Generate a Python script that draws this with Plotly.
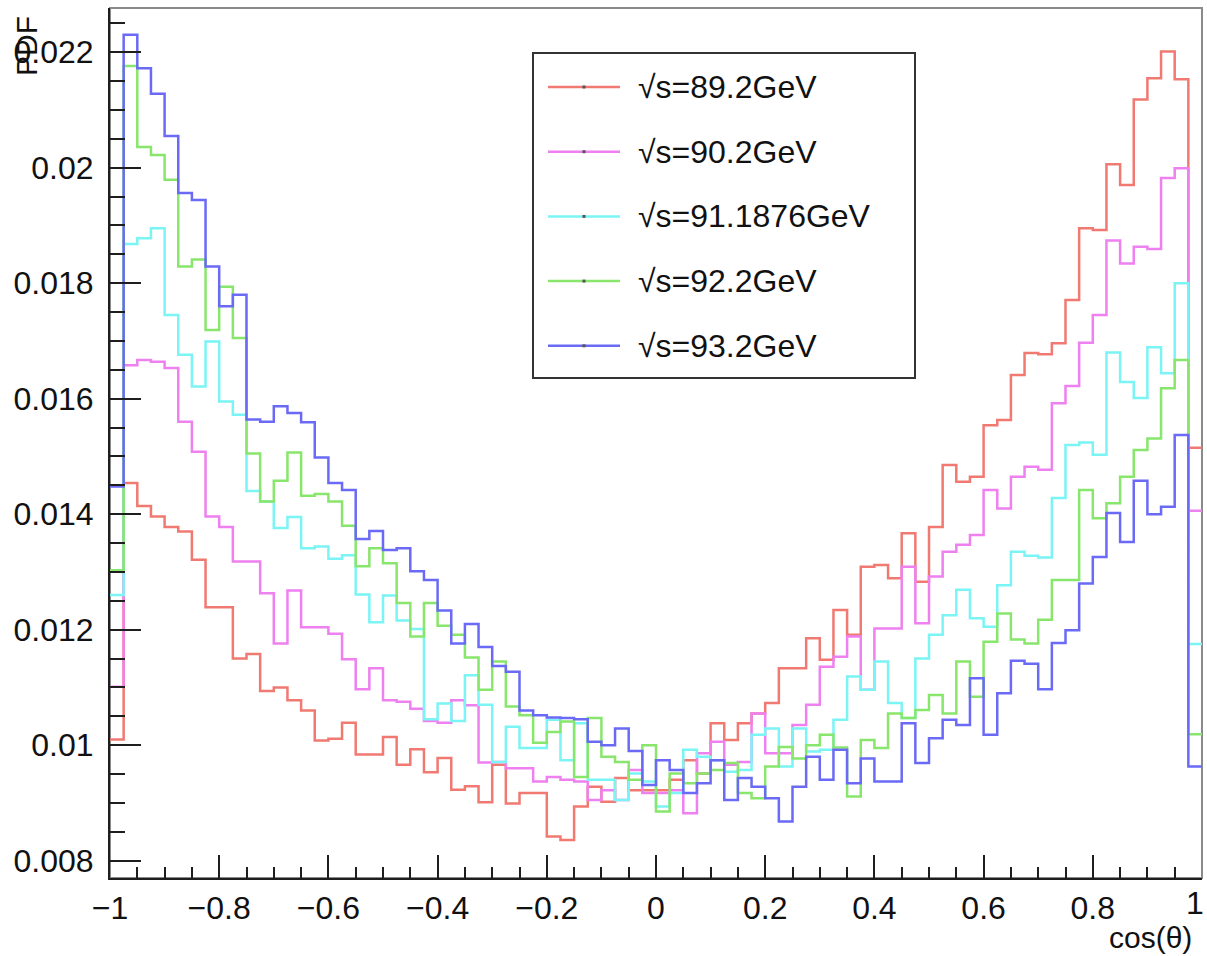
import plotly.graph_objects as go

# ---------------- data ----------------
x_min, x_max, n_bins = -1.0, 1.0, 80

series_names = ["√s=89.2GeV", "√s=90.2GeV", "√s=91.1876GeV", "√s=92.2GeV", "√s=93.2GeV"]
series_colors = ["#f07a72", "#ee80f0", "#7af4f4", "#88e66c", "#6a6af6"]

pdf_892 = [0.01010, 0.01454, 0.01414, 0.01396, 0.01378, 0.01370, 0.01321, 0.01239, 0.01239, 0.01150,
           0.01158, 0.01094, 0.01100, 0.01078, 0.01060, 0.01008, 0.01011, 0.01039, 0.00984, 0.00984,
           0.01014, 0.00966, 0.00993, 0.00953, 0.00978, 0.00923, 0.00929, 0.00901, 0.00966, 0.00899,
           0.00917, 0.00917, 0.00842, 0.00836, 0.00894, 0.00928, 0.00902, 0.00943, 0.00922, 0.00922,
           0.00922, 0.00940, 0.00974, 0.00951, 0.01038, 0.01009, 0.01038, 0.01055, 0.01073, 0.01133,
           0.01133, 0.01185, 0.01148, 0.01234, 0.01191, 0.01309, 0.01312, 0.01289, 0.01367, 0.01283,
           0.01378, 0.01485, 0.01456, 0.01465, 0.01554, 0.01563, 0.01641, 0.01679, 0.01677, 0.01696,
           0.01771, 0.01895, 0.01892, 0.02006, 0.01970, 0.02118, 0.02155, 0.02201, 0.02153, 0.01515]

pdf_902 = [0.01101, 0.01658, 0.01667, 0.01664, 0.01653, 0.01560, 0.01508, 0.01396, 0.01378, 0.01318,
           0.01318, 0.01263, 0.01176, 0.01268, 0.01204, 0.01204, 0.01193, 0.01149, 0.01097, 0.01133,
           0.01078, 0.01075, 0.01063, 0.01042, 0.01039, 0.01078, 0.01069, 0.00970, 0.00971, 0.00960,
           0.00960, 0.00937, 0.00945, 0.00940, 0.00937, 0.00905, 0.00922, 0.00905, 0.00957, 0.00917,
           0.00917, 0.00922, 0.00882, 0.00986, 0.01006, 0.00966, 0.00971, 0.01055, 0.00986, 0.00986,
           0.01035, 0.01070, 0.01136, 0.01153, 0.01188, 0.01096, 0.01202, 0.01202, 0.01309, 0.01211,
           0.01292, 0.01335, 0.01347, 0.01364, 0.01442, 0.01410, 0.01465, 0.01482, 0.01477, 0.01592,
           0.01622, 0.01697, 0.01745, 0.01874, 0.01834, 0.01863, 0.01859, 0.01982, 0.01999, 0.01406]

pdf_911876 = [0.01260, 0.01868, 0.01878, 0.01895, 0.01745, 0.01676, 0.01621, 0.01699, 0.01595, 0.01572,
              0.01440, 0.01422, 0.01376, 0.01395, 0.01341, 0.01344, 0.01323, 0.01329, 0.01261, 0.01213,
              0.01259, 0.01216, 0.01201, 0.01045, 0.01072, 0.01042, 0.01121, 0.01070, 0.00971, 0.01032,
              0.00995, 0.00995, 0.01044, 0.00974, 0.01038, 0.00940, 0.00940, 0.00905, 0.00951, 0.00937,
              0.00894, 0.00917, 0.00992, 0.00980, 0.00974, 0.00954, 0.00957, 0.01018, 0.01029, 0.00963,
              0.01029, 0.00989, 0.00992, 0.01044, 0.01119, 0.01096, 0.01145, 0.01073, 0.01047, 0.01150,
              0.01191, 0.01225, 0.01269, 0.01220, 0.01205, 0.01277, 0.01335, 0.01328, 0.01325, 0.01428,
              0.01520, 0.01524, 0.01503, 0.01680, 0.01629, 0.01601, 0.01689, 0.01644, 0.01800, 0.01175]

pdf_922 = [0.01303, 0.02176, 0.02036, 0.02022, 0.01979, 0.01829, 0.01841, 0.01719, 0.01794, 0.01705,
           0.01505, 0.01422, 0.01458, 0.01507, 0.01432, 0.01435, 0.01422, 0.01380, 0.01310, 0.01341,
           0.01315, 0.01246, 0.01188, 0.01246, 0.01207, 0.01191, 0.01152, 0.01096, 0.01145, 0.01067,
           0.01052, 0.01004, 0.01023, 0.01041, 0.00945, 0.01047, 0.00980, 0.00971, 0.00940, 0.01000,
           0.00885, 0.00951, 0.00934, 0.00951, 0.00957, 0.00969, 0.00917, 0.00908, 0.00963, 0.00997,
           0.00977, 0.01000, 0.01018, 0.00996, 0.00911, 0.01009, 0.00995, 0.01055, 0.01047, 0.01061,
           0.01087, 0.01055, 0.01145, 0.01084, 0.01179, 0.01228, 0.01183, 0.01176, 0.01217, 0.01286,
           0.01286, 0.01442, 0.01393, 0.01419, 0.01465, 0.01511, 0.01531, 0.01618, 0.01667, 0.01019]

pdf_932 = [0.01448, 0.02230, 0.02172, 0.02128, 0.02055, 0.01956, 0.01944, 0.01829, 0.01760, 0.01780,
           0.01564, 0.01560, 0.01587, 0.01575, 0.01559, 0.01498, 0.01454, 0.01442, 0.01357, 0.01371,
           0.01338, 0.01341, 0.01301, 0.01286, 0.01233, 0.01176, 0.01210, 0.01170, 0.01137, 0.01127,
           0.01060, 0.01052, 0.01048, 0.01047, 0.01045, 0.01006, 0.01000, 0.01029, 0.00990, 0.00931,
           0.00974, 0.00957, 0.00917, 0.00934, 0.00974, 0.00905, 0.00943, 0.00928, 0.00908, 0.00868,
           0.00928, 0.00980, 0.00940, 0.00992, 0.00934, 0.00977, 0.00937, 0.00937, 0.01038, 0.00969,
           0.01012, 0.01044, 0.01035, 0.01116, 0.01018, 0.01090, 0.01146, 0.01141, 0.01097, 0.01177,
           0.01199, 0.01280, 0.01326, 0.01402, 0.01352, 0.01458, 0.01400, 0.01413, 0.01537, 0.00963]

x_tick_vals = [-1, -0.8, -0.6, -0.4, -0.2, 0, 0.2, 0.4, 0.6, 0.8, 1]
x_tick_text = ["\u22121", "\u22120.8", "\u22120.6", "\u22120.4", "\u22120.2", "0", "0.2", "0.4", "0.6", "0.8", "1"]
y_tick_vals = [0.008, 0.010, 0.012, 0.014, 0.016, 0.018, 0.020, 0.022]
y_tick_text = ["0.008", "0.01", "0.012", "0.014", "0.016", "0.018", "0.02", "0.022"]

all_series = [pdf_892, pdf_902, pdf_911876, pdf_922, pdf_932]

# ---------------- layout constants ----------------
W, H = 1207, 956
ML, MR, MT, MB = 110, 5, 8, 78
PW, PH = W - ML - MR, H - MT - MB
FONT = "Liberation Sans, Arial, Helvetica, sans-serif"
AX = "#1e1e1e"
TXT = "#111111"


def px(xp):
    return (xp - ML) / PW


def py(yp):
    return (H - MB - yp) / PH


bin_w = (x_max - x_min) / n_bins
edges = [x_min + i * bin_w for i in range(n_bins + 1)]

fig = go.Figure()
for name, col, vals in zip(series_names, series_colors, all_series):
    fig.add_trace(go.Scatter(
        x=edges, y=list(vals) + [vals[-1]], mode="lines", name=name,
        line=dict(shape="hv", color=col, width=2.5), showlegend=False,
        hoverinfo="skip"))

shapes = []
annotations = []

# frame (top / right in grey)
shapes.append(dict(type="rect", xref="paper", yref="paper", x0=0, x1=1, y0=0, y1=1,
                   line=dict(color="#8a8a8a", width=2), layer="below"))

# legend (manual, ROOT-like)
lg_x0, lg_x1, lg_y0, lg_y1 = 533, 915, 53, 378
shapes.append(dict(type="rect", xref="paper", yref="paper",
                   x0=px(lg_x0), x1=px(lg_x1), y0=py(lg_y1), y1=py(lg_y0),
                   line=dict(color="#333333", width=2), fillcolor="white", layer="above"))
for i, (name, col) in enumerate(zip(series_names, series_colors)):
    yc = 87 + 64.7 * i
    shapes.append(dict(type="line", xref="paper", yref="paper",
                       x0=px(548), x1=px(620), y0=py(yc), y1=py(yc),
                       line=dict(color=col, width=2.5), layer="above"))
    shapes.append(dict(type="rect", xref="paper", yref="paper",
                       x0=px(582.5), x1=px(585.5), y0=py(yc + 1.5), y1=py(yc - 1.5),
                       line=dict(width=0), fillcolor="#555555", layer="above"))
    annotations.append(dict(text=name, xref="paper", yref="paper", x=px(636), y=py(yc),
                            xanchor="left", yanchor="middle", showarrow=False,
                            font=dict(family=FONT, size=32, color=TXT)))

# last x tick label (sits on the canvas edge, so drawn as an annotation kept inside)
x_tick_text_axis = x_tick_text[:-1] + [""]
annotations.append(dict(text=x_tick_text[-1], xref="paper", yref="paper", x=px(1206), y=py(903),
                        xanchor="right", yanchor="middle", showarrow=False,
                        font=dict(family=FONT, size=32, color=TXT)))

# axis titles
annotations.append(dict(text="PDF", xref="paper", yref="paper", x=px(26), y=py(46),
                        xanchor="center", yanchor="middle", textangle=-90, showarrow=False,
                        font=dict(family=FONT, size=30, color=TXT)))
annotations.append(dict(text="cos(θ)", xref="paper", yref="paper", x=px(1194), y=py(937),
                        xanchor="right", yanchor="middle", showarrow=False,
                        font=dict(family=FONT, size=30, color=TXT)))

fig.update_layout(
    width=W, height=H,
    margin=dict(l=ML, r=MR, t=MT, b=MB, pad=0),
    paper_bgcolor="white", plot_bgcolor="white",
    shapes=shapes, annotations=annotations,
    showlegend=False,
    xaxis=dict(range=[x_min, x_max], showgrid=False, zeroline=False,
               showline=True, linecolor=AX, linewidth=2,
               ticks="inside", ticklen=23, tickwidth=2, tickcolor=AX,
               tickmode="array", tickvals=x_tick_vals, ticktext=x_tick_text_axis,
               ticklabelstandoff=1,
               minor=dict(ticks="inside", ticklen=11, tickwidth=2, tickcolor=AX,
                          tickmode="linear", tick0=-1, dtick=0.05),
               tickfont=dict(family=FONT, size=32, color=TXT)),
    yaxis=dict(range=[0.0077, 0.022765], showgrid=False, zeroline=False,
               showline=True, linecolor=AX, linewidth=2,
               ticks="inside", ticklen=31, tickwidth=2, tickcolor=AX,
               tickmode="array", tickvals=y_tick_vals, ticktext=y_tick_text,
               ticklabelstandoff=8,
               minor=dict(ticks="inside", ticklen=15, tickwidth=2, tickcolor=AX,
                          tickmode="linear", tick0=0.008, dtick=0.0005),
               tickfont=dict(family=FONT, size=32, color=TXT)),
)

fig.write_html("out.html")
